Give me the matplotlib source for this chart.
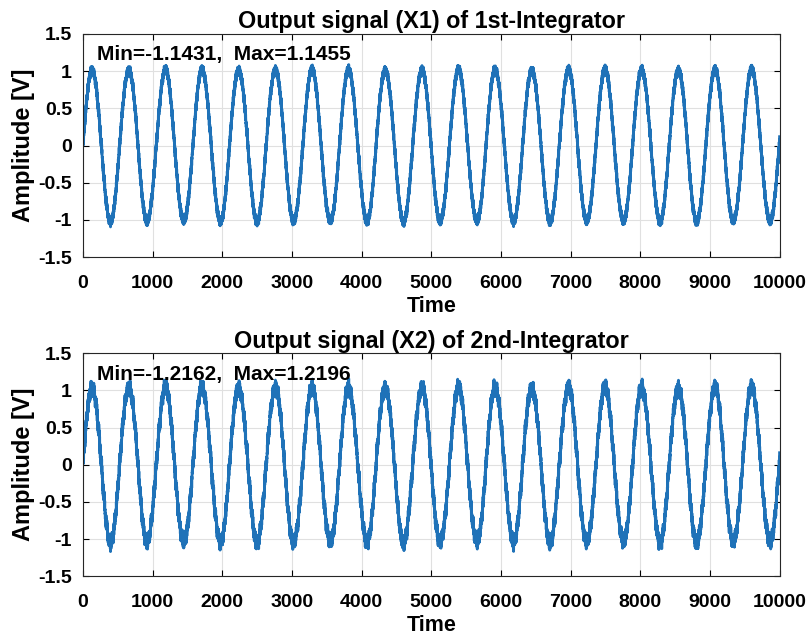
import numpy as np
import matplotlib.pyplot as plt

plt.rcParams['font.family'] = ['Liberation Sans', 'DejaVu Sans']
plt.rcParams['font.weight'] = 'bold'

# values
n_samples = 10000
period = 526.0            # samples per cycle (19 peaks over 10000)
amp_x1 = 1.02
amp_x2 = 1.04
ripple_x1 = 0.08          # half width of the fuzzy band
ripple_x2 = 0.14
titles = ['Output signal (X1) of 1st-Integrator', 'Output signal (X2) of 2nd-Integrator']
stats = ['Min=-1.1431,  Max=1.1455', 'Min=-1.2162,  Max=1.2196']
xticks = [0, 1000, 2000, 3000, 4000, 5000, 6000, 7000, 8000, 9000, 10000]
yticks = [-1.5, -1, -0.5, 0, 0.5, 1, 1.5]
ytick_labels = ['-1.5', '-1', '-0.5', '0', '0.5', '1', '1.5']

t = np.arange(n_samples + 1)

# deterministic ripple made of a few incommensurate tones
def ripple(t, slow):
    r = (np.sin(2 * np.pi * 0.3183 * t) + 0.8 * np.sin(2 * np.pi * 0.4142 * t + 1.3)
         + 0.6 * np.sin(2 * np.pi * 0.2718 * t + 2.1) + slow * np.sin(2 * np.pi * t / 37.3 + 0.4))
    return r / (2.4 + slow)

x1 = amp_x1 * np.sin(2 * np.pi * t / period) + ripple_x1 * ripple(t, 0.3)
x2 = amp_x2 * np.sin(2 * np.pi * t / period) + ripple_x2 * ripple(t, 0.9)
signals = [x1, x2]

fig = plt.figure(figsize=(8.09, 6.41), dpi=100)
positions = [[0.1026, 0.599, 0.861, 0.348], [0.1026, 0.101, 0.861, 0.348]]

for i in range(2):
    ax = fig.add_axes(positions[i])
    ax.plot(t, signals[i], color='#1f72b8', linewidth=2.0)
    ax.set_xlim(0, 10000)
    ax.set_ylim(-1.5, 1.5)
    ax.set_xticks(xticks)
    ax.set_yticks(yticks)
    ax.set_yticklabels(ytick_labels)
    ax.tick_params(direction='in', labelsize=14, length=4, width=0.8, top=True, right=True, pad=8)
    ax.tick_params(axis='x', pad=13)
    for lab in ax.get_xticklabels() + ax.get_yticklabels():
        lab.set_fontweight('bold')
    ax.grid(True, color='#e0e0e0', linewidth=0.8)
    ax.set_axisbelow(True)
    for s in ax.spines.values():
        s.set_linewidth(0.8)
        s.set_color('#262626')
    ax.set_title(titles[i], fontsize=16.8, fontweight='bold', pad=4)
    ax.set_xlabel('Time', fontsize=15.5, fontweight='bold', labelpad=3)
    ax.set_ylabel('Amplitude [V]', fontsize=17, fontweight='bold', labelpad=2)
    ax.text(200, 1.22, stats[i], fontsize=15, fontweight='bold', va='center')

fig.savefig('out.png', dpi=100)
